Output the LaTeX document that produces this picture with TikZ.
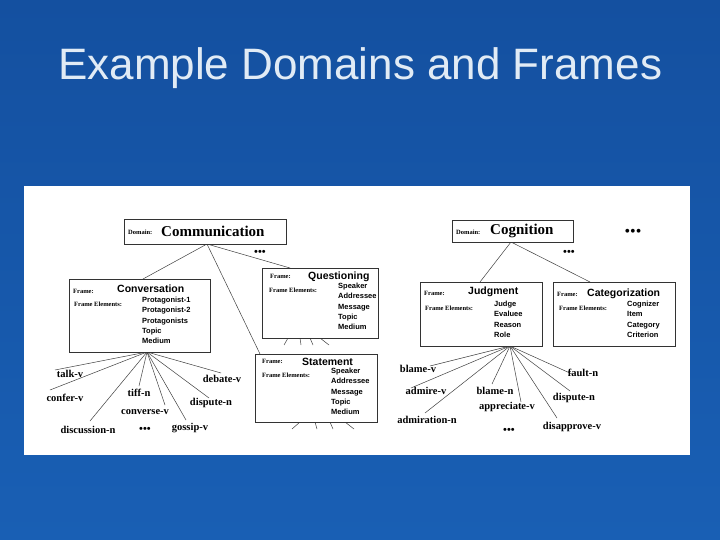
\documentclass[tikz,border=0pt]{standalone}
\usepackage{fontspec}
\setmainfont{Liberation Serif}
\setsansfont{Liberation Sans}
\definecolor{bgtop}{RGB}{20,80,160}
\definecolor{bgbot}{RGB}{25,95,180}
\definecolor{ttl}{RGB}{225,235,245}
\begin{document}
\begin{tikzpicture}[x=1pt,y=-1pt,
 box/.style={draw=black!80,line width=0.8pt,fill=white},
 fl/.style={font=\rmfamily\bfseries\fontsize{6.5}{7}\selectfont,anchor=west,inner sep=0},
 ft/.style={font=\sffamily\bfseries\fontsize{10.5}{12}\selectfont,anchor=west,inner sep=0},
 fe/.style={font=\sffamily\bfseries\fontsize{7.5}{10.3}\selectfont,anchor=north west,inner sep=0,align=left},
 lu/.style={font=\rmfamily\bfseries\fontsize{10.5}{10}\selectfont,inner sep=0.5pt},
 ln/.style={draw=black!75,line width=0.5pt},
 dots/.style={font=\rmfamily\bfseries\fontsize{11}{11}\selectfont,inner sep=0}]
\useasboundingbox (0,0) rectangle (720,540);
\shade[top color=bgtop, bottom color=bgbot] (0,0) rectangle (720,540);
\node[text=ttl,font=\sffamily\fontsize{44}{48}\selectfont,anchor=west,inner sep=0] (title) at (58,68) {Example Domains and Frames};
\fill[white] (24,186) rectangle (690,455);
% lines
\coordinate (ch) at (207,244);
\coordinate (cvh) at (147,352);
\coordinate (cgh) at (511,242);
\coordinate (jh) at (510,346);
\draw[ln] (ch) -- (143,279) (ch) -- (290,268) (ch) -- (260,354);
\draw[ln] (cgh) -- (480,282) (cgh) -- (590,282);
\foreach \p in {(55,370),(50,390),(139,386),(221,373),(165,405),(209,398),(90,421),(186,420)} \draw[ln] (cvh) -- \p;
\foreach \p in {(430,366),(411,388),(425,413),(492,384),(521,402),(572,374),(570,391),(557,418)} \draw[ln] (jh) -- \p;
\foreach \a/\b in {{(288,338)}/{(284,345)},{(300,338)}/{(301,345)},{(310,338)}/{(313,345)},{(320,338)}/{(329,345)}} \draw[ln] \a -- \b;
\foreach \a/\b in {{(300,422)}/{(292,429)},{(315,422)}/{(317,429)},{(330,422)}/{(333,429)},{(345,422)}/{(354,429)}} \draw[ln] \a -- \b;
% boxes
\draw[box] (124,219) rectangle (286,244);
\node[fl] (dc) at (128,232) {Domain:};
\node[font=\rmfamily\bfseries\fontsize{15}{15}\selectfont,anchor=west,inner sep=0] (comm) at (161,231) {Communication};
\draw[box] (452,220) rectangle (573,242);
\node[fl] (dg) at (456,232) {Domain:};
\node[font=\rmfamily\bfseries\fontsize{15}{15}\selectfont,anchor=west,inner sep=0] (cogn) at (490,231) {Cognition};
% Conversation
\draw[box] (69,279) rectangle (210,352);
\node[fl] at (73,291) {Frame:};
\node[ft] at (117,289) {Conversation};
\node[fl] at (74,304) {Frame Elements:};
\node[fe] at (142,297) {Protagonist-1\\Protagonist-2\\Protagonists\\Topic\\Medium};
% Questioning
\draw[box] (262,268) rectangle (378,338);
\node[fl] at (270,276) {Frame:};
\node[ft] at (308,277) {Questioning};
\node[fl] at (269,290) {Frame Elements:};
\node[fe] at (338,283) {Speaker\\Addressee\\Message\\Topic\\Medium};
% Statement
\draw[box] (255,354) rectangle (377,422);
\node[fl] at (262,361) {Frame:};
\node[ft] at (302,362) {Statement};
\node[fl] at (262,375) {Frame Elements:};
\node[fe] at (331,368) {Speaker\\Addressee\\Message\\Topic\\Medium};
% Judgment
\draw[box] (420,282) rectangle (542,346);
\node[fl] at (424,293) {Frame:};
\node[ft] at (468,292) {Judgment};
\node[fl] at (425,308) {Frame Elements:};
\node[fe] at (494,301) {Judge\\Evaluee\\Reason\\Role};
% Categorization
\draw[box] (553,282) rectangle (675,346);
\node[fl] at (557,294) {Frame:};
\node[ft] at (587,294) {Categorization};
\node[fl] at (559,308) {Frame Elements:};
\node[fe] at (627,301) {Cognizer\\Item\\Category\\Criterion};
% lexical units
\node[lu] at (70,374) {talk-v};
\node[lu] at (65,398) {confer-v};
\node[lu] at (139,393) {tiff-n};
\node[lu] at (222,379) {debate-v};
\node[lu] at (145,412) {converse-v};
\node[lu] at (211,403) {dispute-n};
\node[lu] at (88,430) {discussion-n};
\node[lu] at (190,428) {gossip-v};
\node[lu] at (418,369) {blame-v};
\node[lu] at (426,391) {admire-v};
\node[lu] at (427,420) {admiration-n};
\node[lu] at (495,391) {blame-n};
\node[lu] at (507,407) {appreciate-v};
\node[lu] at (583,373) {fault-n};
\node[lu] at (574,398) {dispute-n};
\node[lu] at (572,427) {disapprove-v};
% dots
\node[dots] at (260,253) {\textbullet\textbullet\textbullet};
\node[dots] at (569,253) {\textbullet\textbullet\textbullet};
\node[dots] at (145,430) {\textbullet\textbullet\textbullet};
\node[dots] at (509,431) {\textbullet\textbullet\textbullet};
\node[font=\rmfamily\fontsize{16}{16}\selectfont,inner sep=0] at (633,233) {\textbullet\textbullet\textbullet};
\end{tikzpicture}
\end{document}
